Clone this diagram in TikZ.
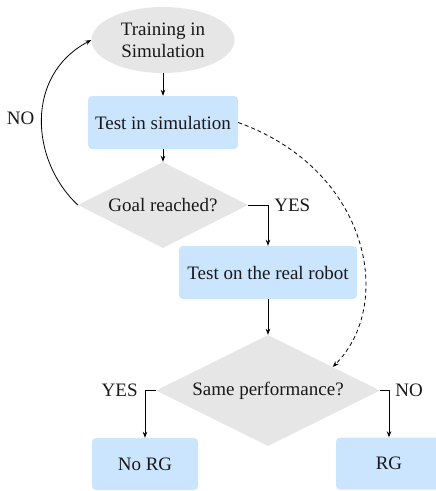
\documentclass[tikz,border=0pt]{standalone}
\usepackage{fontspec}
\setmainfont{Liberation Serif}
\usetikzlibrary{shapes.geometric,arrows.meta}
\definecolor{boxblue}{HTML}{CCE5FF}
\definecolor{shapegray}{HTML}{E6E6E6}
\tikzset{
  every node/.style={font=\fontsize{19}{22}\selectfont, text=black!90},
  bluebox/.style={rectangle, rounded corners=4pt, fill=boxblue, inner sep=0pt},
  grayell/.style={ellipse, fill=shapegray, inner sep=0pt, align=center},
  graydia/.style={diamond, fill=shapegray, inner sep=0pt, aspect=2},
  conn/.style={line width=0.8pt, -{Stealth[length=6pt,width=4.5pt]}},
  lbl/.style={inner sep=0pt}
}
\begin{document}
\begin{tikzpicture}[x=1pt,y=-1pt]
\useasboundingbox (0,0) rectangle (436,491);
\node[grayell, minimum width=143, minimum height=66] (train) at (163,40) {Training in\\Simulation};
\node[bluebox, minimum width=150, minimum height=53] (sim) at (163,122.5) {Test in simulation};
\node[graydia, minimum width=170, minimum height=86] (goal) at (163,205) {Goal reached?};
\node[bluebox, minimum width=178, minimum height=53] (real) at (268,272.5) {Test on the real robot};
\node[graydia, minimum width=224, minimum height=111] (same) at (268,390.5) {Same performance?};
\node[bluebox, minimum width=106, minimum height=52] (norg) at (145,464) {No RG};
\node[bluebox, minimum width=106, minimum height=52] (rg) at (389,463.5) {RG};

\draw[conn] (train) -- (sim);
\draw[conn] (sim) -- (goal);
\draw[conn] (goal.east) -| node[pos=0.5, lbl, anchor=west, xshift=6pt] {YES} (real.north);
\draw[conn] (real) -- (same);
\draw[conn] (same.west) -| node[pos=0.5, lbl, anchor=east, xshift=-7pt] {YES} (norg.north);
\draw[conn] (same.east) -| node[pos=0.5, lbl, anchor=west, xshift=6pt] {NO} (rg.north);
\draw[conn] (goal.west) .. controls (30,160) and (25,75) .. node[pos=0.5, lbl, anchor=east, xshift=-7pt] {NO} (train.west);
\draw[conn, dashed, dash pattern=on 4pt off 3pt] (sim.east) .. controls (370,170) and (395,305) .. (same.20);
\end{tikzpicture}
\end{document}
